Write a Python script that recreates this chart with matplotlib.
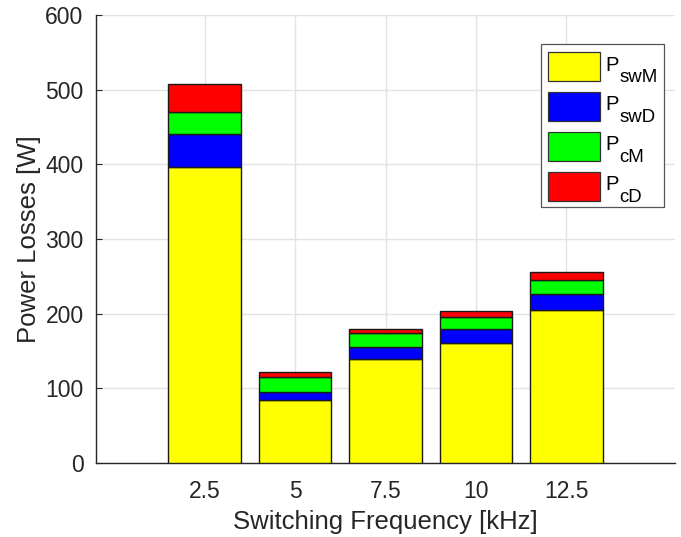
import matplotlib
matplotlib.use("Agg")
import matplotlib.pyplot as plt
from matplotlib.patches import Rectangle
import numpy as np

plt.rcParams['font.family'] = ['Liberation Sans', 'DejaVu Sans']

# Switching frequencies [kHz]
freqs = [2.5, 5, 7.5, 10, 12.5]
freq_labels = ['2.5', '5', '7.5', '10', '12.5']
# Loss components [W]
p_swM = [397, 85, 139, 161, 205]
p_swD = [43, 10, 16, 18, 21]
p_cM = [30, 20.5, 18.5, 17, 19]
p_cD = [38, 6.5, 6.5, 8, 10.5]

subscripts = ['swM', 'swD', 'cM', 'cD']
colors = ['#ffff00', '#0000ff', '#00ff00', '#ff0000']
yticks = [0, 100, 200, 300, 400, 500, 600]

W, H = 681, 537
txt = '#262626'
fig = plt.figure(figsize=(W / 100, H / 100), dpi=100)
ax = fig.add_axes([96 / W, 74 / H, 579 / W, 448 / H])

series = [p_swM, p_swD, p_cM, p_cD]
bottom = np.zeros(len(freqs))
for vals, col in zip(series, colors):
    ax.bar(freqs, vals, width=2.0, bottom=bottom, color=col,
           edgecolor='#1a1a1a', linewidth=1.0, zorder=3)
    bottom += np.array(vals)

ax.set_xlim(-0.5, 15.5)
ax.set_ylim(0, 600)
ax.set_xticks(freqs)
ax.set_xticklabels(freq_labels)
ax.set_yticks(yticks)
ax.grid(True, color='#e3e3e3', linewidth=1.0, zorder=0)
ax.set_axisbelow(True)

for s in ['top', 'right']:
    ax.spines[s].set_visible(False)
for s in ['left', 'bottom']:
    ax.spines[s].set_color(txt)
    ax.spines[s].set_linewidth(1.0)

ax.tick_params(axis='both', direction='in', length=4, color=txt,
               labelcolor=txt, labelsize=16.5)
ax.tick_params(axis='x', pad=12)
ax.tick_params(axis='y', pad=9)
ax.set_xlabel('Switching Frequency [kHz]', fontsize=18.5, color=txt, labelpad=5)
ax.set_ylabel('Power Losses [W]', fontsize=18.5, color=txt, labelpad=3)


# Legend box with subscripted labels, laid out in figure pixels
def fx(px):
    return px / W


def fy(py):
    return 1 - py / H


fig.patches.append(Rectangle((fx(541), fy(207)), fx(664) - fx(541),
                             fy(44) - fy(207), transform=fig.transFigure,
                             facecolor='white', edgecolor='#555555',
                             linewidth=0.9, zorder=5))
row_top = 52
for i, (col, sub) in enumerate(zip(colors, subscripts)):
    top = row_top + 40 * i
    fig.patches.append(Rectangle((fx(547.5), fy(top + 29)), fx(599.5) - fx(547.5),
                                 fy(top) - fy(top + 29), transform=fig.transFigure,
                                 facecolor=col, edgecolor='#333333',
                                 linewidth=0.9, zorder=6))
    fig.text(fx(605), fy(top + 18.5), 'P', fontsize=14.6, color='black',
             ha='left', va='baseline', zorder=7)
    fig.text(fx(619.5), fy(top + 30.5), sub, fontsize=13.4, color='black',
             ha='left', va='baseline', zorder=7)

fig.savefig('out.png', dpi=100)
